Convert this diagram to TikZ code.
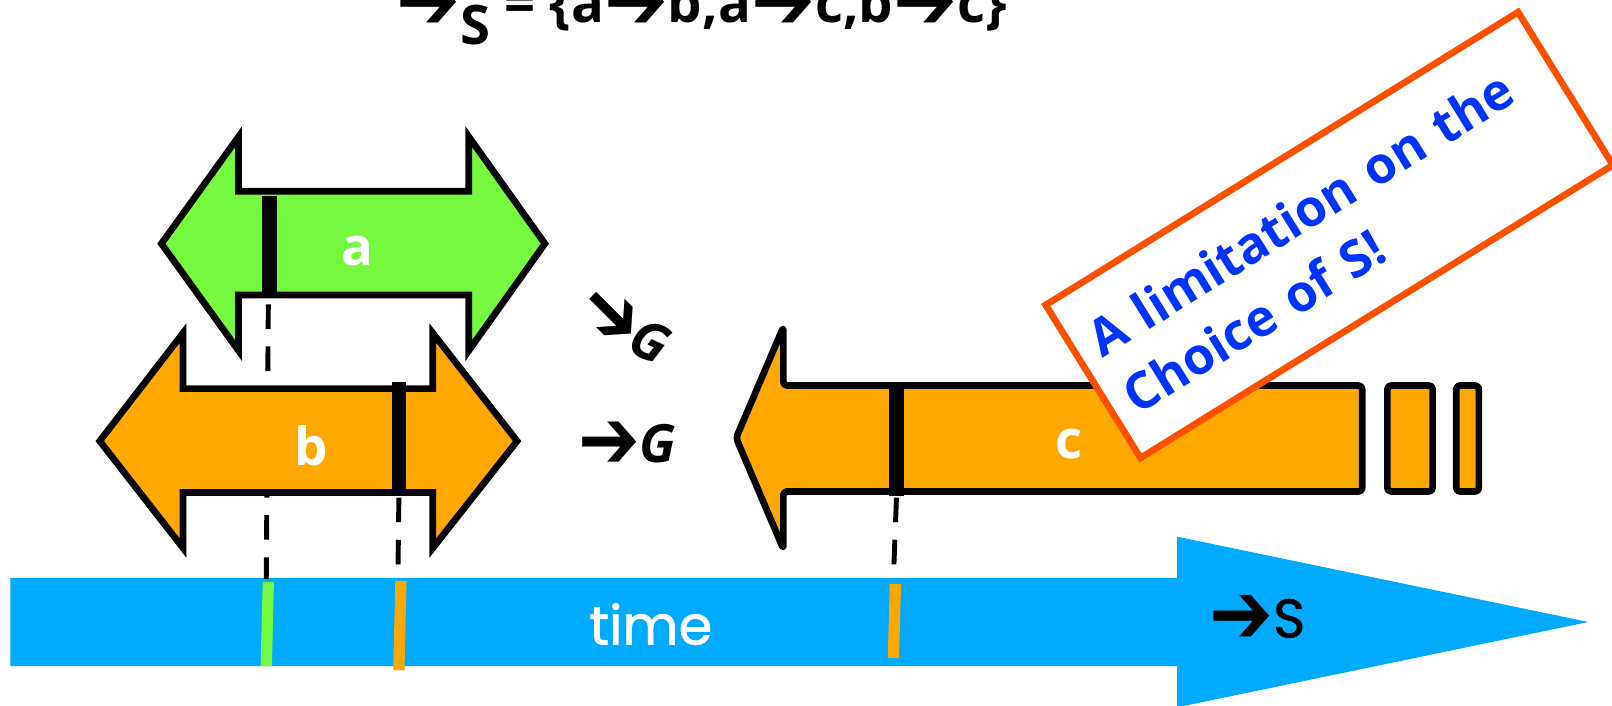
\documentclass[tikz,border=0pt]{standalone}
\usepackage{fontspec}
\setmainfont{Open Sans}
\newfontfamily\geofont{Poppins}[FakeBold=1.2]
\newfontfamily\symfont{DejaVu Sans}
\newcommand{\fatarr}{\raisebox{-0.12em}{\scalebox{1.4}[1.6]{\symfont\bfseries ➔}}}
\definecolor{evgreen}{RGB}{118,248,64}
\definecolor{evorange}{RGB}{255,168,0}
\definecolor{evblue}{RGB}{0,170,255}
\definecolor{evred}{RGB}{255,80,0}
\definecolor{evtext}{RGB}{0,51,255}
\tikzset{
  evshape/.style  = {draw=black, line width=1.9pt},
  evround/.style  = {evshape, line join=round, rounded corners=1pt},
  evbar/.style    = {line width=4.1pt, line cap=butt},
  evdash/.style   = {line width=1.4pt, dash pattern=on 7pt off 5pt},
  evtick/.style   = {line width=3.2pt},
  evlbl/.style    = {text=white, font=\fontsize{15}{18}\selectfont\bfseries, inner sep=0pt},
  evord/.style    = {font=\fontsize{15}{18}\selectfont\bfseries, inner sep=0pt},
  evnote/.style   = {draw=evred, line width=1.9pt, fill=white, rotate=31.8,
                     minimum width=5.56cm, minimum height=1.8cm, text width=5.16cm,
                     inner xsep=0.2cm, align=left, text=evtext,
                     font=\fontsize{14.5}{19}\selectfont\bfseries},
}

\begin{document}
\begin{tikzpicture}[x=0.0102806cm, y=-0.0102806cm]
  \useasboundingbox (0,0) rectangle (1568,686);
  \clip (0,0) rectangle (1568,686);

  % the order at the top
  \node[evord, anchor=base west, font=\fontsize{15.5}{18}\selectfont\bfseries] (order) at (385,22)
        {\fatarr\raisebox{-0.4em}{S} = \{a\fatarr b,a\fatarr c,b\fatarr c\}};

  % time axis
  \fill[evblue] (10,562) -- (1145,562) -- (1145,522) -- (1545,605)
                -- (1145,688) -- (1145,648) -- (10,648) -- cycle;
  \node[text=white, inner sep=0pt, font=\fontsize{15.5}{18}\selectfont\geofont] (time) at (633,607) {time};
  \node[inner sep=0pt, font=\fontsize{15.5}{18}\selectfont\geofont] (sord) at (1223,603) {\fatarr S};

  % projections onto the axis
  \coordinate (pa) at (259,563);
  \coordinate (pb) at (387,563);
  \coordinate (pc) at (869,563);
  \draw[evdash] (261,296) -- (pa);
  \draw[evdash] (388,484) -- (pb);
  \draw[evdash] (872,484) -- (pc);
  \draw[evtick, evgreen]  (261,566) -- (259,648);
  \draw[evtick, evorange] (390,565) -- (388,652);
  \draw[evtick, evorange] (871,568) -- (869,640);

  % event a
  \filldraw[evshape, fill=evgreen] (157,237) -- (232,133) -- (232,186) -- (456,186)
        -- (456,133) -- (530,237) -- (456,341) -- (456,287) -- (232,287)
        -- (232,341) -- cycle;
  \draw[evbar] (262,191) -- (262,284);
  \node[evlbl] (a) at (348,244) {a};

  % event b
  \filldraw[evshape, fill=evorange] (97,429) -- (178,324) -- (178,378) -- (421,378)
        -- (421,324) -- (503,429) -- (421,533) -- (421,479) -- (178,479)
        -- (178,533) -- cycle;
  \draw[evbar] (388,372) -- (388,478);
  \node[evlbl] (b) at (303,434) {b};

  % event c
  \filldraw[evround, fill=evorange] (716,426) -- (762,318) -- (762,375) -- (1325,375)
        -- (1325,478) -- (762,478) -- (762,534) -- cycle;
  \filldraw[evround, fill=evorange] (1349.5,375) rectangle (1393.5,478);
  \filldraw[evround, fill=evorange] (1416.5,375) rectangle (1438.5,478);
  \draw[evbar] (872,372) -- (872,482);
  \node[evlbl] (c) at (1040,432) {c};

  % group orders
  \node[evord] (gdiag) at (606,314)
        {\rotatebox[origin=c]{-45}{\fatarr}\hspace{-0.45em}\raisebox{-0.5em}{\rotatebox[origin=c]{-25}{\itshape G}}};
  \node[evord] (gord) at (610,433) {\fatarr\itshape G};

  % remark
  \node[evnote] (note) at (1293,228.6) {A limitation on the\\Choice of S!};
\end{tikzpicture}
\end{document}
